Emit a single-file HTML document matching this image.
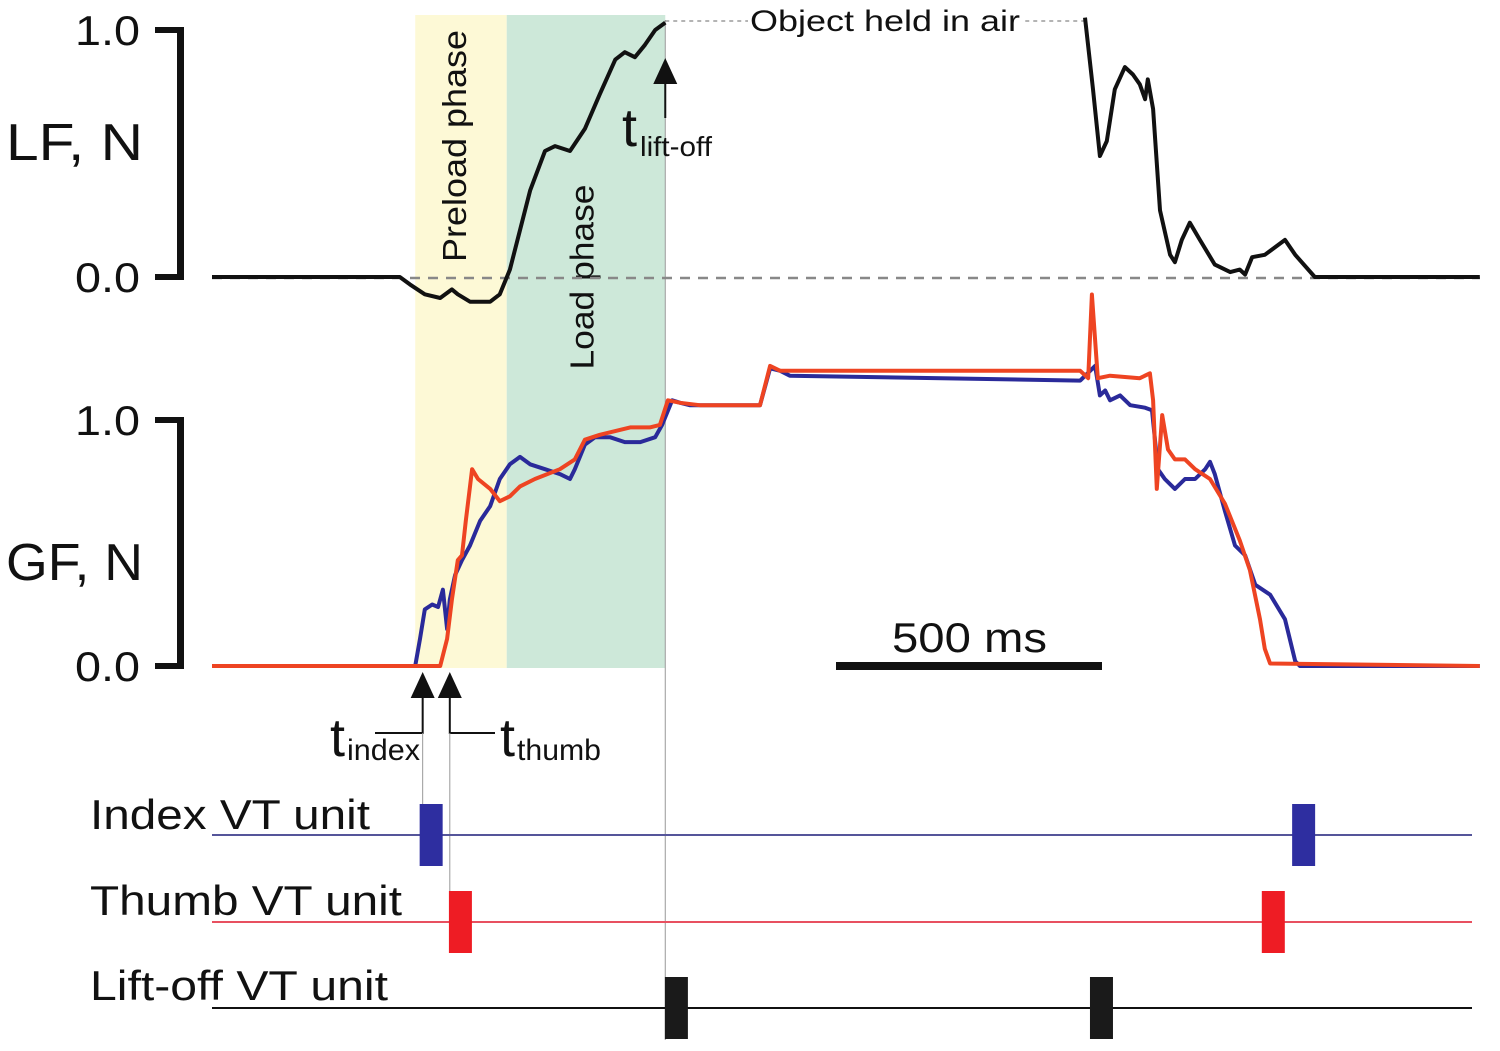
<!DOCTYPE html>
<html><head><meta charset="utf-8"><style>
html,body{margin:0;padding:0;background:#fff;}
svg{display:block;font-family:"Liberation Sans",Arial,sans-serif;}
</style></head><body>
<svg id="chart" width="1500" height="1051" viewBox="0 0 1500 1051">
<g id="bg"></g>
<g id="marks"></g>
<g id="axes"></g>
</svg>
<script>
// time (ms) and force values
const lfTimes1 = [0,353,372,400,429,451,462,485,523,541,560,579,598,626,645,673,701,729,758,776,795,814,833,852];
const lfVals1  = [0,0,-0.03,-0.07,-0.085,-0.05,-0.07,-0.1,-0.1,-0.07,0.03,0.19,0.35,0.51,0.53,0.51,0.6,0.74,0.88,0.91,0.89,0.94,1.0,1.03];
const lfTimes2 = [1641,1656,1669,1682,1697,1716,1731,1744,1754,1759,1769,1782,1801,1810,1823,1838,1857,1885,1914,1932,1942,1955,1979,2017,2036,2073,2383];
const lfVals2  = [1.05,0.76,0.49,0.55,0.76,0.85,0.82,0.78,0.72,0.8,0.68,0.27,0.09,0.06,0.15,0.22,0.15,0.05,0.02,0.03,0.01,0.08,0.09,0.15,0.09,0,0];
const indexTimes = [0,382,391,400,414,425,434,442,447,457,470,485,504,523,541,560,579,598,626,654,673,682,701,720,748,776,805,833,846,865,880,898,1030,1049,1068,1086,1632,1660,1669,1679,1688,1707,1726,1754,1767,1778,1791,1810,1829,1848,1867,1876,1885,1904,1923,1942,1961,1989,2017,2036,2045,2383];
const indexVals  = [0,0,.11,.23,.25,.24,.31,.15,.27,.37,.43,.49,.59,.65,.76,.82,.85,.82,.80,.78,.76,.80,.90,.93,.93,.91,.91,.93,.98,1.08,1.07,1.06,1.06,1.21,1.20,1.18,1.16,1.22,1.10,1.12,1.08,1.10,1.06,1.05,1.04,.80,.76,.72,.76,.76,.80,.83,.78,.63,.49,.45,.33,.29,.19,.02,0,0];
const thumbTimes = [0,429,442,451,462,470,477,489,500,523,541,560,579,607,654,682,701,729,786,823,842,857,880,917,1030,1049,1068,1632,1647,1654,1665,1688,1744,1763,1769,1776,1786,1797,1810,1829,1848,1876,1904,1932,1951,1970,1979,1989,2383];
const thumbVals  = [0,0,.11,.27,.43,.45,.59,.80,.76,.72,.67,.69,.73,.76,.80,.84,.92,.94,.97,.97,.98,1.08,1.07,1.06,1.06,1.22,1.20,1.20,1.17,1.51,1.17,1.18,1.17,1.19,1.08,.72,1.02,.88,.84,.84,.80,.76,.66,.51,.39,.19,.07,.01,0];
const spikeIndex = [411,2051];
const spikeThumb = [466,1994];
const spikeLift  = [872,1671];
const phaseBounds = [382,554,852]; // preload start, load start, lift-off
const onsets = [396,447]; // index, thumb onset arrows
const yTicks = ["0.0","1.0"];

const NS="http://www.w3.org/2000/svg";
const X0=212, PXMS=0.532;
const xs=t=>X0+t*PXMS;
const yLF=v=>277-v*247;
const yGF=v=>666-v*246;
function el(tag,attrs,parent,text){const e=document.createElementNS(NS,tag);for(const k in attrs)e.setAttribute(k,attrs[k]);if(text!==undefined)e.textContent=text;document.getElementById(parent).appendChild(e);return e;}
function path(ts,vs,yf){return ts.map((t,i)=>(i?'L':'M')+xs(t).toFixed(1)+','+yf(vs[i]).toFixed(1)).join('');}
const TL={'lengthAdjust':'spacingAndGlyphs'};
function txt(attrs,parent,text,len){const a=Object.assign({},attrs);if(len){a.textLength=len;a.lengthAdjust='spacingAndGlyphs';}return el('text',a,parent,text);}

let e;
e=el('rect',{x:xs(phaseBounds[0]),y:15,width:xs(phaseBounds[1])-xs(phaseBounds[0]),height:653,fill:'#fdf9d6'},'bg');


e=el('rect',{x:xs(phaseBounds[1]),y:15,width:xs(phaseBounds[2])-xs(phaseBounds[1]),height:653,fill:'#cde8d9'},'bg');


e=txt({x:0,y:0,'font-size':33,fill:'#111','text-anchor':'middle',transform:`translate(${xs(phaseBounds[0])+51},146) rotate(-90)`},'bg','Preload phase',232);


e=txt({x:0,y:0,'font-size':33,fill:'#111','text-anchor':'middle',transform:`translate(${xs(phaseBounds[1])+87},277) rotate(-90)`},'bg','Load phase',185);


const xl=xs(phaseBounds[2]);
e=el('line',{x1:xl,y1:20,x2:xl,y2:1040,stroke:'#999','stroke-width':1},'bg');


e=el('line',{x1:212,y1:yLF(0)+1,x2:1480,y2:yLF(0)+1,stroke:'#888','stroke-width':2.5,'stroke-dasharray':'10,8'},'bg');


e=el('line',{x1:xl,y1:21,x2:1085,y2:21,stroke:'#888','stroke-width':1.2,'stroke-dasharray':'4,4'},'bg');


e=el('rect',{x:748,y:5,width:274,height:32,fill:'#fff'},'bg');


e=txt({x:750,y:31,'font-size':30,fill:'#111'},'bg','Object held in air',270);



e=el('path',{d:path(lfTimes1,lfVals1,yLF)+path(lfTimes2,lfVals2,yLF),fill:'none',stroke:'#111','stroke-width':4,'stroke-linejoin':'round'},'marks');


e=el('path',{d:path(indexTimes,indexVals,yGF),fill:'none',stroke:'#2a2a9a','stroke-width':4,'stroke-linejoin':'round'},'marks');


e=el('path',{d:path(thumbTimes,thumbVals,yGF),fill:'none',stroke:'#ee4422','stroke-width':4,'stroke-linejoin':'round'},'marks');



function axis(name,yf,label,ly){
  let a=el('rect',{x:177,y:yf(1)-3,width:7,height:yf(0)-yf(1)+6,fill:'#111'},'axes');
  
  
  yTicks.forEach(t=>{
    const y=yf(parseFloat(t));
    let k=el('rect',{x:155,y:y-3,width:28,height:6,fill:'#111'},'axes');
    
    
    k=txt({x:75,y:y+15,'font-size':42,fill:'#111'},'axes',t,65);
    
    
  });
  let l=txt({x:6,y:ly,'font-size':52,fill:'#111'},'axes',label,137);
  
  
}
axis('lf',yLF,'LF, N',160);
axis('gf',yGF,'GF, N',580);

e=el('rect',{x:836,y:662,width:266,height:8,fill:'#111'},'axes');


e=txt({x:892,y:652,'font-size':42,fill:'#111'},'axes','500 ms',155);



function arrow(x,tip,name){
  let a=el('polygon',{points:`${x},${tip} ${x-12},${tip+26} ${x+12},${tip+26}`,fill:'#111'},'axes');
  
  
}
const xi=xs(onsets[0]), xt=xs(onsets[1]);
arrow(xi,672,'index-onset-arrow');arrow(xt,672,'thumb-onset-arrow');
e=el('path',{d:`M${xi},698V733H375M${xt},698V733H495`,fill:'none',stroke:'#111','stroke-width':2},'axes');


e=el('path',{d:`M${xi},733V865M${xt},733V953`,fill:'none',stroke:'#999','stroke-width':1},'axes');


e=el('text',{x:330,y:756,'font-size':54,fill:'#111'},'axes','t');


txt({x:347,y:760,'font-size':30,fill:'#111'},'axes','index',73);
e=el('text',{x:500,y:756,'font-size':54,fill:'#111'},'axes','t');


txt({x:517,y:760,'font-size':30,fill:'#111'},'axes','thumb',84);
arrow(xl,58,'lift-off-arrow');
e=el('line',{x1:xl,y1:80,x2:xl,y2:118,stroke:'#111','stroke-width':2},'axes');


e=el('text',{x:622,y:146,'font-size':54,fill:'#111'},'axes','t');


txt({x:640,y:156,'font-size':28,fill:'#111'},'axes','lift-off',72);

function row(name,label,ly,lineY,col,lineCol,times,h,len){
  let t=txt({x:90,y:ly,'font-size':42,fill:'#111'},'axes',label,len);
  
  
  let l=el('line',{x1:212,y1:lineY,x2:1472,y2:lineY,stroke:lineCol,'stroke-width':2},'axes');
  
  
  times.forEach(tm=>{
    let r=el('rect',{x:xs(tm)-11,y:lineY-h/2,width:23,height:h,fill:col},'axes');
    
    
  });
}
row('index-vt-unit','Index VT unit',829,835,'#2e2ea0','#55559a',spikeIndex,62,280);
row('thumb-vt-unit','Thumb VT unit',915,922,'#ee1c24','#e85060',spikeThumb,62,312);
row('lift-off-vt-unit','Lift-off VT unit',1000,1008,'#1a1a1a','#111',spikeLift,62,298);
</script>
</body></html>
